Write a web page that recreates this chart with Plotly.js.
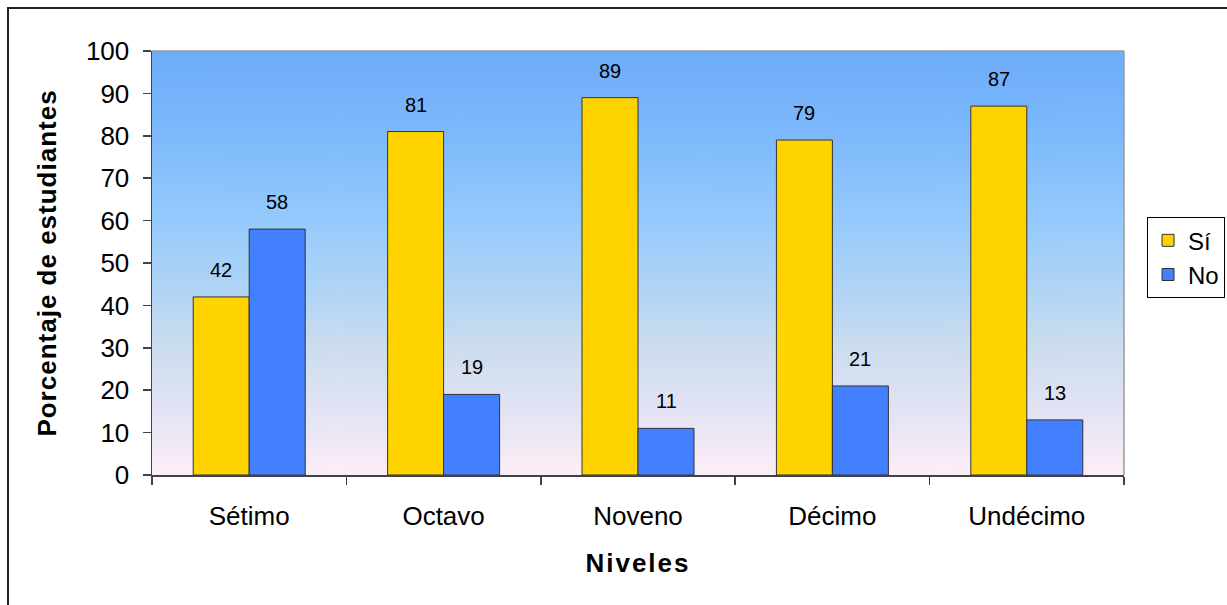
<!DOCTYPE html>
<html>
<head>
<meta charset="utf-8">
<script src="https://cdn.plot.ly/plotly-3.0.1.min.js"></script>
<style>
html,body{margin:0;padding:0;background:#fff;}
#chart{width:1227px;height:605px;}
</style>
</head>
<body>
<div id="chart"></div>
<script>
const categories = ["Sétimo", "Octavo", "Noveno", "Décimo", "Undécimo"];
const siValues = [42, 81, 89, 79, 87];
const noValues = [58, 19, 11, 21, 13];
const seriesNames = ["Sí", "No"];

// gradient background image
const cv = document.createElement('canvas');
cv.width = 8; cv.height = 424;
const ctx = cv.getContext('2d');
const g = ctx.createLinearGradient(0, 0, 0, 424);
g.addColorStop(0.00, '#6FACF9');
g.addColorStop(0.20, '#7DB9FB');
g.addColorStop(0.40, '#95CAFC');
g.addColorStop(0.55, '#AED3F6');
g.addColorStop(0.70, '#CCDDEE');
g.addColorStop(0.85, '#E3E3F4');
g.addColorStop(1.00, '#FCEEF6');
ctx.fillStyle = g;
ctx.fillRect(0, 0, 8, 424);
const bgURL = cv.toDataURL('image/png');

const FONT = 'Liberation Sans, Arial, sans-serif';

const traces = [
  {type: 'bar', name: seriesNames[0], x: categories, y: siValues,
   marker: {color: '#FFD300', line: {color: '#333333', width: 1}}, hoverinfo: 'none'},
  {type: 'bar', name: seriesNames[1], x: categories, y: noValues,
   marker: {color: '#4280FF', line: {color: '#333333', width: 1}}, hoverinfo: 'none'}
];

const annotations = [];
categories.forEach((c, i) => {
  annotations.push({x: c, y: siValues[i], xref: 'x', yref: 'y', text: String(siValues[i]),
    showarrow: false, xshift: -28, yshift: 27, yanchor: 'middle',
    font: {family: FONT, size: 20, color: '#000'}});
  annotations.push({x: c, y: noValues[i], xref: 'x', yref: 'y', text: String(noValues[i]),
    showarrow: false, xshift: 28, yshift: 27, yanchor: 'middle',
    font: {family: FONT, size: 20, color: '#000'}});
});

const layout = {
  width: 1227, height: 605,
  margin: {l: 152, r: 103, t: 51, b: 130, pad: 0, autoexpand: false},
  paper_bgcolor: '#ffffff',
  plot_bgcolor: 'rgba(0,0,0,0)',
  font: {family: FONT, color: '#000'},
  barmode: 'group',
  bargap: 0.424,
  bargroupgap: 0,
  showlegend: true,
  legend: {x: 1.0237, xanchor: 'left', y: 0.608, yanchor: 'top',
    bordercolor: '#000', borderwidth: 1, bgcolor: '#fff',
    font: {family: FONT, size: 24, color: '#000'}, traceorder: 'normal'},
  xaxis: {
    type: 'category',
    showgrid: false, zeroline: false,
    showline: true, linecolor: '#404050', linewidth: 1.5,
    ticks: 'outside', ticklen: 8, tickcolor: '#404050', tickwidth: 1.5,
    tickson: 'boundaries',
    tickfont: {family: FONT, size: 26, color: '#000'},
    ticklabelstandoff: 17,
    title: {text: 'Niveles', font: {family: FONT, size: 26, color: '#000', weight: 'bold'}, standoff: 24},
    fixedrange: true
  },
  yaxis: {
    range: [0, 100], dtick: 10, tick0: 0,
    showgrid: false, zeroline: false,
    showline: true, linecolor: '#404050', linewidth: 1.5,
    ticks: 'outside', ticklen: 8, tickcolor: '#404050', tickwidth: 1.5,
    tickfont: {family: FONT, size: 26, color: '#000'},
    ticklabelstandoff: 8,
    title: {text: 'Porcentaje de estudiantes', font: {family: FONT, size: 26, color: '#000', weight: 'bold'}, standoff: 22},
    fixedrange: true
  },
  images: [{source: bgURL, xref: 'paper', yref: 'paper', x: 0, y: 1, sizex: 1, sizey: 1,
    sizing: 'stretch', xanchor: 'left', yanchor: 'top', layer: 'below'}],
  shapes: [
    {type: 'line', xref: 'paper', yref: 'paper', x0: 0, x1: 1, y0: 1, y1: 1, line: {color: '#9a9a9a', width: 1.5}, layer: 'above'},
    {type: 'line', xref: 'paper', yref: 'paper', x0: 1, x1: 1, y0: 0, y1: 1, line: {color: '#9a9a9a', width: 1.5}, layer: 'above'},
    {type: 'rect', xref: 'paper', yref: 'paper', x0: (8 - 152) / 972, x1: 1.5, y0: -1, y1: (475 - 8) / 424, line: {color: '#222', width: 2}, fillcolor: 'rgba(0,0,0,0)', layer: 'below'}
  ],
  annotations: annotations
};

Plotly.newPlot('chart', traces, layout, {displayModeBar: false, staticPlot: true}).then(() => {
  document.querySelectorAll('.xtitle').forEach(e => e.style.letterSpacing = '2px');
  document.querySelectorAll('.ytitle').forEach(e => e.style.letterSpacing = '1px');
});
</script>
</body>
</html>
